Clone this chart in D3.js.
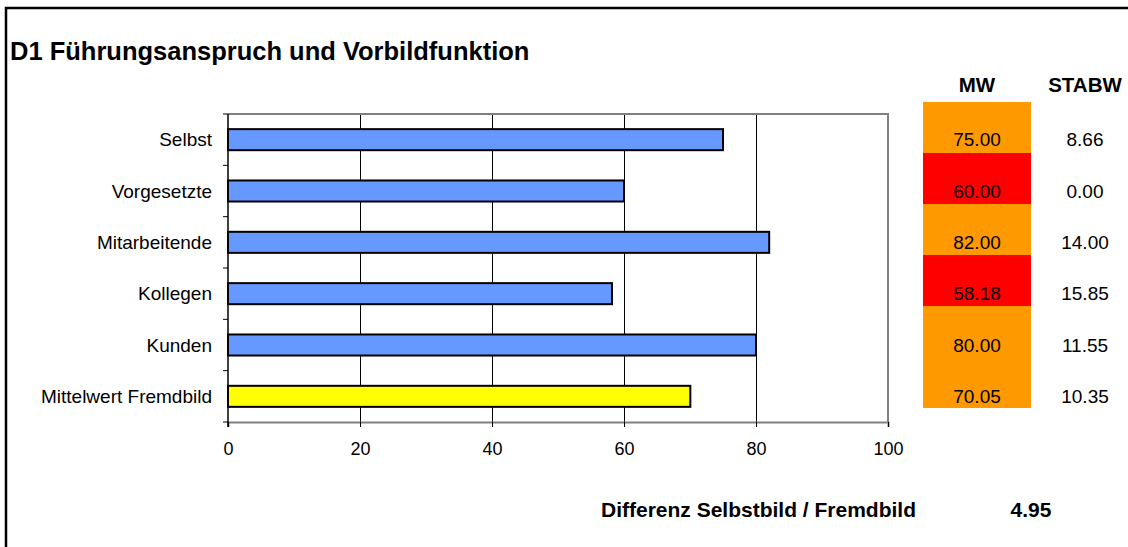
<!DOCTYPE html>
<html>
<head>
<meta charset="utf-8">
<script src="https://cdn.jsdelivr.net/npm/d3@7/dist/d3.min.js"></script>
<style>
  html, body { margin: 0; padding: 0; background: #fff; }
  svg { display: block; font-family: "Liberation Sans", Arial, sans-serif; }
</style>
</head>
<body>
<svg id="chart" width="1128" height="547"></svg>
<script>
const title = "D1 Führungsanspruch und Vorbildfunktion";
const categories = ["Selbst", "Vorgesetzte", "Mitarbeitende", "Kollegen", "Kunden", "Mittelwert Fremdbild"];
const values = [75, 60, 82, 58.18, 80, 70.05];
const barColors = ["#6699FF", "#6699FF", "#6699FF", "#6699FF", "#6699FF", "#FFFF00"];
const mwLabels = ["75.00", "60.00", "82.00", "58.18", "80.00", "70.05"];
const mwColors = ["#FF9900", "#FF0000", "#FF9900", "#FF0000", "#FF9900", "#FF9900"];
const stabwLabels = ["8.66", "0.00", "14.00", "15.85", "11.55", "10.35"];
const xTicks = [0, 20, 40, 60, 80, 100];
const diffLabel = "Differenz Selbstbild / Fremdbild";
const diffValue = "4.95";

(function () {
const svg = d3.select("#chart");

// outer frame (top & left visible)
svg.append("rect").attr("x", 6).attr("y", 8).attr("width", 1200).attr("height", 600)
  .attr("fill", "none").attr("stroke", "#000").attr("stroke-width", 2.5);

svg.append("text").attr("x", 10).attr("y", 60)
  .attr("font-size", 25.5).attr("font-weight", "bold").text(title);

const pLeft = 228, pRight = 888, pTop = 114, pBottom = 422;
const x = d3.scaleLinear().domain([0, 100]).range([pLeft, pRight]);
const y = d3.scaleBand().domain(categories).range([pTop, pBottom]).paddingInner(0.59).paddingOuter(0.295);
const yb = d3.scaleBand().domain(categories).range([pTop, pBottom]);

// gridlines
svg.append("g").selectAll("line").data(xTicks.filter(d => d > 0 && d < 100)).join("line")
  .attr("x1", d => x(d)).attr("x2", d => x(d)).attr("y1", pTop).attr("y2", pBottom)
  .attr("stroke", "#000").attr("stroke-width", 1).attr("shape-rendering", "crispEdges");

// plot border top/right
svg.append("path").attr("d", `M${pLeft},${pTop}H${pRight}V${pBottom}`)
  .attr("fill", "none").attr("stroke", "#808080").attr("stroke-width", 2);

// bars
svg.append("g").selectAll("rect").data(categories).join("rect")
  .attr("x", x(0)).attr("y", d => y(d))
  .attr("width", (d, i) => x(values[i]) - x(0)).attr("height", y.bandwidth())
  .attr("fill", (d, i) => barColors[i]).attr("stroke", "#000").attr("stroke-width", 2);

// x axis
const xAxis = d3.axisBottom(x).tickValues(xTicks).tickSize(5).tickPadding(15);
const gx = svg.append("g").attr("transform", `translate(0,${pBottom})`).call(xAxis);
gx.select(".domain").attr("stroke", "#808080").attr("stroke-width", 2);
gx.selectAll(".tick line").attr("stroke", "#000");
gx.selectAll("text").attr("font-size", 18).attr("fill", "#000").attr("font-family", "Liberation Sans, Arial, sans-serif");

// y axis
svg.append("line").attr("x1", pLeft).attr("x2", pLeft).attr("y1", pTop).attr("y2", pBottom + 5)
  .attr("stroke", "#000").attr("stroke-width", 1.5);
const bounds = categories.map(c => yb(c)).concat([pBottom]);
svg.append("g").selectAll("line").data(bounds).join("line")
  .attr("x1", pLeft - 5).attr("x2", pLeft).attr("y1", d => d).attr("y2", d => d)
  .attr("stroke", "#000").attr("stroke-width", 1);
svg.append("g").selectAll("text").data(categories).join("text")
  .attr("x", 212).attr("y", d => y(d) + y.bandwidth() / 2)
  .attr("dy", "0.35em").attr("text-anchor", "end").attr("font-size", 19).text(d => d);

// MW / STABW table
const rowTop = 102, rowH = 51;
const ry = d3.scaleBand().domain(categories).range([rowTop, rowTop + rowH * categories.length]);
svg.append("text").attr("x", 977).attr("y", 92).attr("text-anchor", "middle")
  .attr("font-size", 20.5).attr("font-weight", "bold").text("MW");
svg.append("text").attr("x", 1085).attr("y", 92).attr("text-anchor", "middle")
  .attr("font-size", 20.5).attr("font-weight", "bold").text("STABW");
svg.append("g").selectAll("rect").data(categories).join("rect")
  .attr("x", 923).attr("y", d => ry(d)).attr("width", 108).attr("height", ry.bandwidth())
  .attr("fill", (d, i) => mwColors[i]);
svg.append("g").selectAll("text").data(categories).join("text")
  .attr("x", 977).attr("y", d => y(d) + y.bandwidth() / 2).attr("dy", "0.35em")
  .attr("text-anchor", "middle").attr("font-size", 19).text((d, i) => mwLabels[i]);
svg.append("g").selectAll("text").data(categories).join("text")
  .attr("x", 1085).attr("y", d => y(d) + y.bandwidth() / 2).attr("dy", "0.35em")
  .attr("text-anchor", "middle").attr("font-size", 19).text((d, i) => stabwLabels[i]);

// difference
svg.append("text").attr("x", 916).attr("y", 517).attr("text-anchor", "end")
  .attr("font-size", 21).attr("font-weight", "bold").text(diffLabel);
svg.append("text").attr("x", 1031).attr("y", 517).attr("text-anchor", "middle")
  .attr("font-size", 21).attr("font-weight", "bold").text(diffValue);
})();
</script>
</body>
</html>
